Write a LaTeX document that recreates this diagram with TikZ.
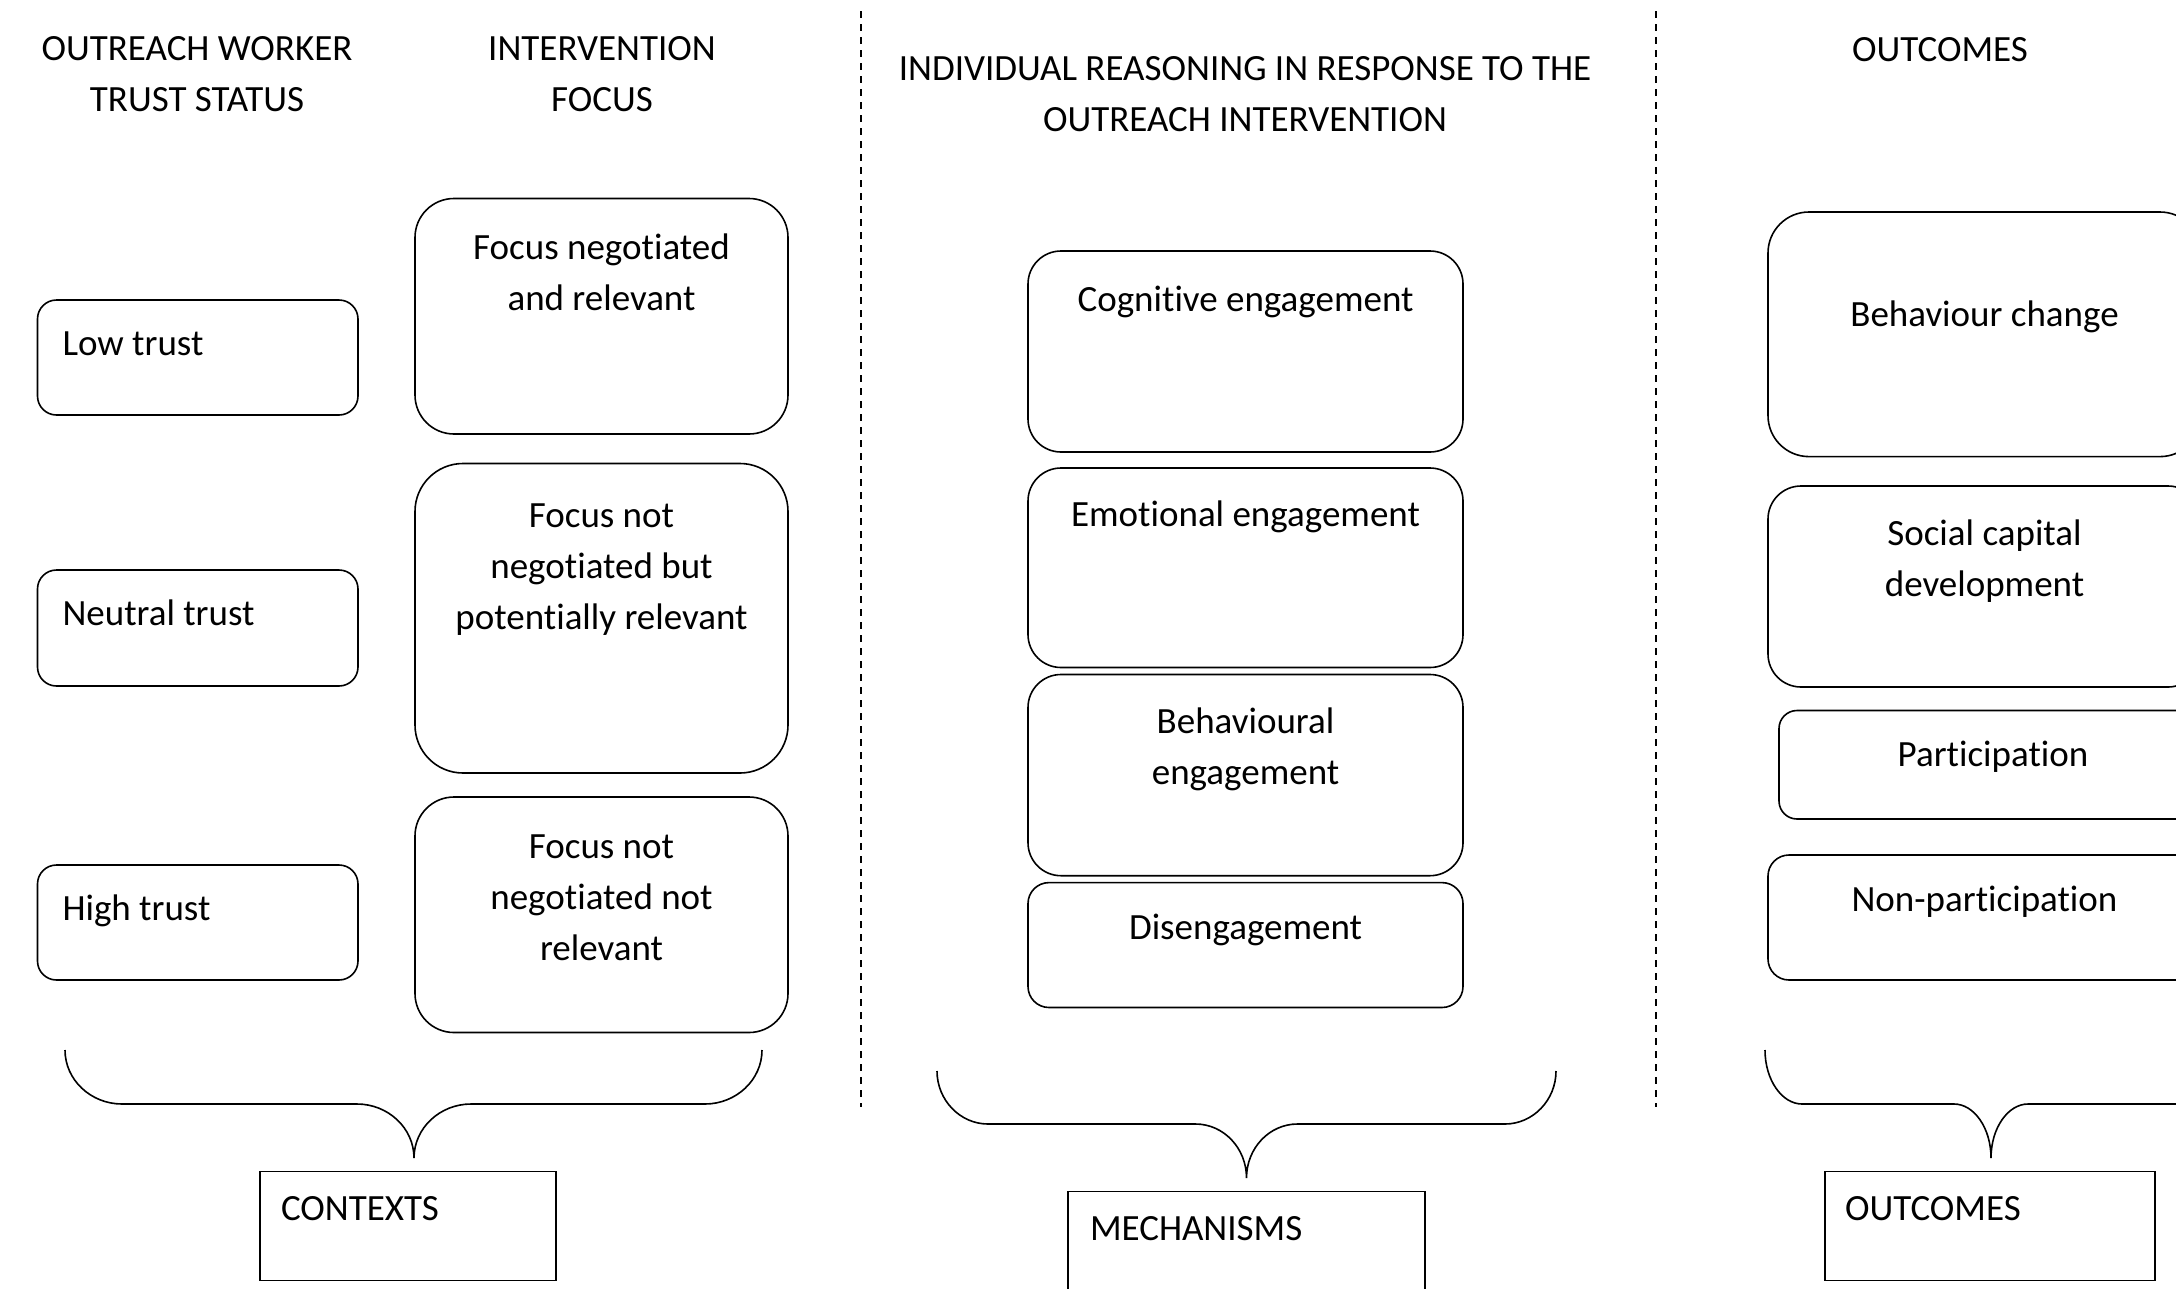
\documentclass[tikz,border=0pt]{standalone}
\usepackage{fontspec}
\setmainfont{Carlito}[Ligatures=NoCommon]
\tikzset{
  boxline/.style={draw=black, line width=1.6pt},
  rbox/.style={boxline, rectangle, inner sep=0pt, outer sep=0pt, anchor=north west},
  txt/.style={inner sep=0pt, outer sep=0pt, align=center, text=black,
     font=\fontsize{37}{51}\selectfont,
     execute at begin node=\strut, execute at end node=\strut},
  ltxt/.style={txt, align=left, anchor=west},
  bracestyle/.style={draw=black, line width=1.6pt},
  sepline/.style={draw=black, line width=2pt, dash pattern=on 7pt off 6pt}
}
% name, x1, y1, x2, y2, radius
\newcommand\mkbox[6]{\node[rbox, rounded corners=#6pt, minimum width={#4-#2}, minimum height={#5-#3}] (#1) at (#2,#3) {};}
\newcommand\mksbox[5]{\node[rbox, minimum width={#4-#2}, minimum height={#5-#3}] (#1) at (#2,#3) {};}
\begin{document}
\begin{tikzpicture}[x=1pt, y=-1pt]
\useasboundingbox (0,0) rectangle (2176,1288);
\clip (0,0) rectangle (2176,1288);
\fill[white] (0,0) rectangle (2176,1288);

% headers
\node[txt] (h1) at (197,81.5) {OUTREACH WORKER\\TRUST STATUS};
\node[txt] (h2) at (602,81.5) {INTERVENTION\\FOCUS};
\node[txt] (h3) at (1245,102) {INDIVIDUAL REASONING IN RESPONSE TO THE\\OUTREACH INTERVENTION};
\node[txt] (h4) at (1940,51) {OUTCOMES};

% dashed separators
\coordinate (s1a) at (861,11);
\coordinate (s1b) at (861,1107);
\coordinate (s2a) at (1656,11);
\coordinate (s2b) at (1656,1107);
\draw[sepline] (s1a) -- (s1b);
\draw[sepline] (s2a) -- (s2b);

% trust boxes
\mkbox{low}{37.5}{300}{358}{415}{19}
\mkbox{neutral}{37.5}{570}{358}{686}{19}
\mkbox{high}{37.5}{865}{358}{980}{19}
\node[ltxt] (lowt) at (62.5,345) {Low trust};
\node[ltxt] (neutralt) at (62.5,615) {Neutral trust};
\node[ltxt] (hight) at (62.5,910) {High trust};

% focus boxes
\mkbox{f1}{415}{198.5}{788}{434}{39}
\mkbox{f2}{415}{463.5}{788}{773}{48}
\mkbox{f3}{415}{797}{788}{1032.5}{39}
\node[txt] (f1t) at (601.5,279.5) {Focus negotiated\\and relevant};
\node[txt] (f2t) at (601.5,574.5) {Focus not\\negotiated but\\potentially relevant};
\node[txt] (f3t) at (601.5,905) {Focus not\\negotiated not\\relevant};

% mechanism boxes
\mkbox{m1}{1028}{251}{1463}{452}{33}
\mkbox{m2}{1028}{468}{1463}{667.5}{33}
\mkbox{m3}{1028}{674.5}{1463}{875.7}{33}
\mkbox{m4}{1028}{882.6}{1463}{1007.5}{21}
\node[txt] (m1t) at (1245.5,301) {Cognitive engagement};
\node[txt] (m2t) at (1245.5,516) {Emotional engagement};
\node[txt] (m3t) at (1245.5,754) {Behavioural\\engagement};
\node[txt] (m4t) at (1245.5,929) {Disengagement};

% outcome boxes (cut at the right edge)
\mkbox{o1}{1768}{212}{2201}{456.6}{41}
\mkbox{o2}{1768}{486}{2201}{687}{33}
\mkbox{o3}{1779}{710.5}{2205}{819}{18}
\mkbox{o4}{1768}{855}{2201}{980}{21}
\node[txt] (o1t) at (1984.5,316) {Behaviour change};
\node[txt] (o2t) at (1984.5,566) {Social capital\\development};
\node[txt] (o3t) at (1993,756) {Participation};
\node[txt] (o4t) at (1984.5,901) {Non-participation};

% braces
\coordinate (bc) at (414,1158);
\coordinate (bm) at (1246.5,1178);
\coordinate (bo) at (1991,1158);
\draw[bracestyle] (65,1050) .. controls (65,1080) and (91,1104) .. (122,1104)
  -- (357,1104) .. controls (388,1104) and (414,1128) .. (bc)
  .. controls (414,1128) and (440,1104) .. (471,1104)
  -- (705,1104) .. controls (736,1104) and (762,1080) .. (762,1050);
\draw[bracestyle] (937,1071) .. controls (937,1100) and (960,1124) .. (988,1124)
  -- (1195.5,1124) .. controls (1223.5,1124) and (1246.5,1148) .. (bm)
  .. controls (1246.5,1148) and (1269.5,1124) .. (1297.5,1124)
  -- (1505,1124) .. controls (1533,1124) and (1556,1100) .. (1556,1071);
\draw[bracestyle] (1765,1050) .. controls (1765,1080) and (1782,1104) .. (1802,1104)
  -- (1954,1104) .. controls (1974,1104) and (1991,1128) .. (bo)
  .. controls (1991,1128) and (2008,1104) .. (2028,1104)
  -- (2180,1104) .. controls (2200,1104) and (2217,1080) .. (2217,1050);

% bottom boxes
\mksbox{ctx}{260}{1171.5}{556}{1280.5}
\mksbox{mech}{1068}{1191.5}{1425}{1310}
\mksbox{outc}{1825}{1171.5}{2155}{1280.5}
\node[ltxt] (ctxt) at (281,1210) {CONTEXTS};
\node[ltxt] (mecht) at (1090,1230) {MECHANISMS};
\node[ltxt] (outct) at (1845,1210) {OUTCOMES};
\end{tikzpicture}
\end{document}
